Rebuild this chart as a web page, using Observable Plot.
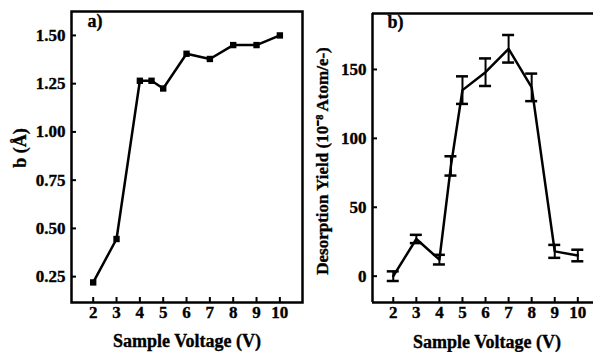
<!DOCTYPE html>
<html>
<head>
<meta charset="utf-8">
<script src="https://cdn.jsdelivr.net/npm/d3@7"></script>
<script src="https://cdn.jsdelivr.net/npm/@observablehq/plot@0.6"></script>
<style>
  html, body { margin: 0; padding: 0; background: #fff; }
  #wrap { position: relative; width: 593px; height: 352px; overflow: hidden; }
  #wrap svg { position: absolute; top: 0; }
  #wrap text { font-family: "Liberation Serif", "Times New Roman", serif; font-weight: bold; stroke: #000; stroke-width: 0.35px; }
</style>
</head>
<body>
<div id="wrap"></div>
<script>
// Panel a: b (Å) vs sample voltage
const voltageA = [2, 3, 4, 4.5, 5, 6, 7, 8, 9, 10];
const bValues  = [0.22, 0.445, 1.265, 1.265, 1.225, 1.405, 1.378, 1.45, 1.45, 1.50];
// Panel b: desorption yield vs sample voltage (with error)
const voltageB = [2, 3, 4, 4.5, 5, 6, 7, 8, 9, 10];
const yieldB   = [0, 27, 12, 80, 135, 148, 165, 137, 18, 15];
const yieldErr = [3.5, 3, 3.5, 7, 10, 10, 10, 10, 4.7, 4.2];
// Tick labels and titles
const xTicks  = [2, 3, 4, 5, 6, 7, 8, 9, 10];
const yTicksA = [0.25, 0.50, 0.75, 1.00, 1.25, 1.50];
const yTicksB = [0, 50, 100, 150];
const xTitle  = "Sample Voltage (V)";
const yTitleA = "b (Å)";
const yTitleB = "Desorption Yield (10⁻⁸ Atom/e-)";

const dataA = voltageA.map((v, i) => ({x: v, y: bValues[i]}));
const dataB = voltageB.map((v, i) => ({x: v, y: yieldB[i], e: yieldErr[i]}));

const FS = 17;
const font = {fontFamily: "Liberation Serif, Times New Roman, serif", fontSize: FS + "px", fontWeight: "bold", color: "#000", background: "transparent", overflow: "visible"};

// Panel a
const wA = 310, hA = 352, mlA = 71, mrA = 8, mtA = 11, mbA = 50;
const plotA = Plot.plot({
  width: wA, height: hA,
  marginLeft: mlA, marginRight: mrA, marginTop: mtA, marginBottom: mbA,
  style: font,
  x: {domain: [1.07, 10.97]},
  y: {domain: [0.116, 1.624]},
  marks: [
    Plot.axisX(xTicks, {tickSize: 0, tickPadding: 3, label: null, fontSize: FS}),
    Plot.axisY(yTicksA, {tickSize: 0, tickPadding: 6, tickFormat: d => d.toFixed(2), label: null, fontSize: FS}),
    Plot.text([xTitle], {frameAnchor: "bottom", textAnchor: "middle", lineAnchor: "middle", dy: 39, fontSize: 18, fill: "#000"}),
    Plot.text([yTitleA], {frameAnchor: "left", textAnchor: "middle", lineAnchor: "middle", rotate: -90, dx: -51, dy: -9, fontSize: 18, fill: "#000"}),
    Plot.tickX(xTicks, {x: d => d, stroke: "#000", strokeWidth: 2, insetTop: hA - mtA - mbA - 5}),
    Plot.tickY(yTicksA, {y: d => d, stroke: "#000", strokeWidth: 2, insetRight: wA - mlA - mrA - 5}),
    Plot.frame({stroke: "#000", strokeWidth: 2.5}),
    Plot.line(dataA, {x: "x", y: "y", stroke: "#000", strokeWidth: 2.5}),
    Plot.dot(dataA, {x: "x", y: "y", symbol: "square", r: 3.6, fill: "#000"}),
    Plot.text(["a)"], {frameAnchor: "top-left", textAnchor: "start", lineAnchor: "top", dx: 16, dy: 3, fontSize: 18, fill: "#000"})
  ]
});
plotA.style.left = "0px";

// Panel b
const wB = 283, hB = 352, mlB = 62, mrB = 0, mtB = 13, mbB = 50;
const plotB = Plot.plot({
  width: wB, height: hB,
  marginLeft: mlB, marginRight: mrB, marginTop: mtB, marginBottom: mbB,
  style: font,
  x: {domain: [1.10, 10.68]},
  y: {domain: [-19.1, 190.6]},
  marks: [
    Plot.axisX(xTicks, {tickSize: 0, tickPadding: 3, label: null, fontSize: FS}),
    Plot.axisY(yTicksB, {tickSize: 0, tickPadding: 6, label: null, fontSize: FS}),
    Plot.text([xTitle], {frameAnchor: "bottom", textAnchor: "middle", lineAnchor: "middle", dx: 4, dy: 40, fontSize: 18, fill: "#000"}),
    Plot.text([yTitleB], {frameAnchor: "left", textAnchor: "middle", lineAnchor: "middle", rotate: -90, dx: -50, dy: 3, fontSize: 17, fill: "#000"}),
    Plot.tickX(xTicks, {x: d => d, stroke: "#000", strokeWidth: 2, insetTop: hB - mtB - mbB - 5}),
    Plot.tickY(yTicksB, {y: d => d, stroke: "#000", strokeWidth: 2, insetRight: wB - mlB - mrB - 5}),
    Plot.ruleX([0], {x: () => 1.10, stroke: "#000", strokeWidth: 2.5}),
    Plot.ruleY([0], {y: () => -19.1, stroke: "#000", strokeWidth: 2.5}),
    Plot.ruleY([0], {y: () => 190.6, stroke: "#000", strokeWidth: 2.5}),
    Plot.line(dataB, {x: "x", y: "y", stroke: "#000", strokeWidth: 2.5}),
    Plot.ruleX(dataB, {x: "x", y1: d => d.y - d.e, y2: d => d.y + d.e, stroke: "#000", strokeWidth: 2}),
    Plot.ruleY(dataB, {y: d => d.y - d.e, x1: d => d.x - 0.26, x2: d => d.x + 0.26, stroke: "#000", strokeWidth: 2.5}),
    Plot.ruleY(dataB, {y: d => d.y + d.e, x1: d => d.x - 0.26, x2: d => d.x + 0.26, stroke: "#000", strokeWidth: 2.5}),
    Plot.text(["b)"], {frameAnchor: "top-left", textAnchor: "start", lineAnchor: "top", dx: 15, dy: 2, fontSize: 18, fill: "#000"})
  ]
});
plotB.style.left = "310px";

const wrap = document.getElementById("wrap");
wrap.append(plotA, plotB);
</script>
</body>
</html>
